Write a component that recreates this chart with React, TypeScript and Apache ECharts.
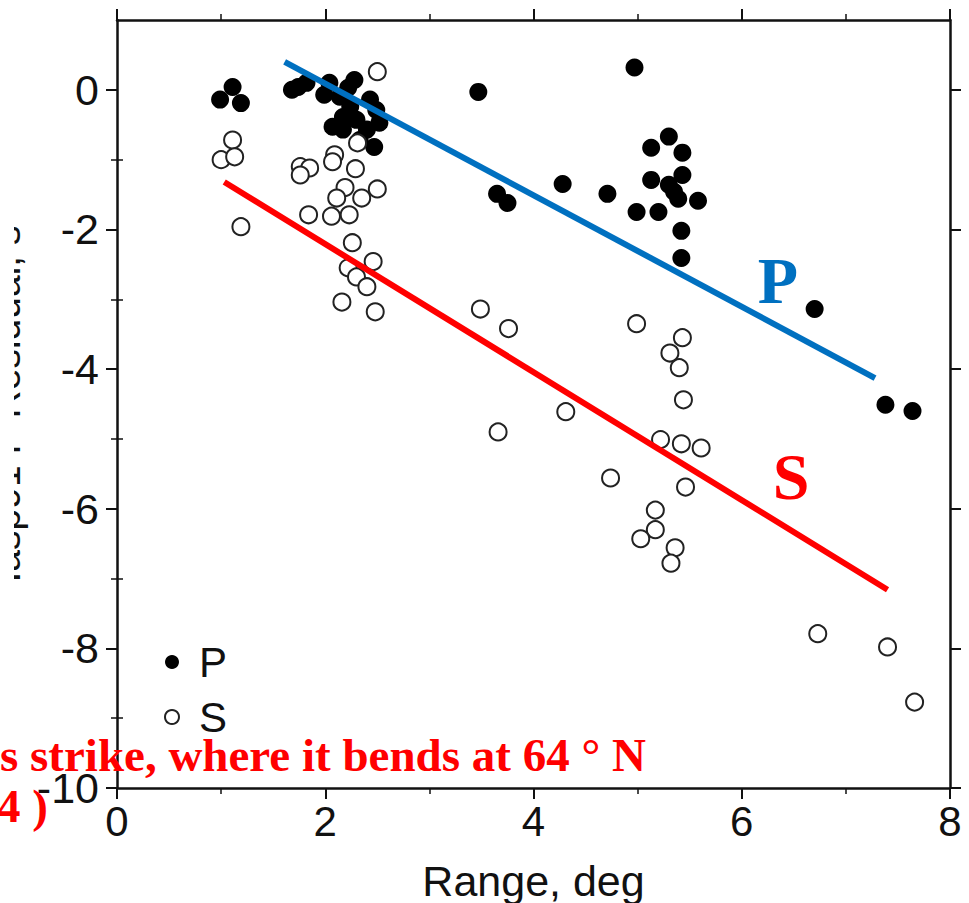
import React, { useEffect, useRef } from "react";
import * as echarts from "echarts";

// P (filled) residuals
const pRange = [0.99, 1.11, 1.19, 1.68, 1.74, 1.82, 1.99, 2.04, 2.22, 2.28, 2.14, 2.24, 2.43, 2.49, 2.17, 2.07, 2.30, 2.40, 2.52, 2.47, 2.17, 2.33, 3.47, 4.97, 3.65, 3.75, 4.28, 4.71, 4.99, 5.20, 5.13, 5.30, 5.43, 5.13, 5.30, 5.43, 5.39, 5.58, 5.42, 5.42, 5.35, 6.70, 7.38, 7.64];
const pResidual = [-0.14, 0.04, -0.19, 0.0, 0.04, 0.10, -0.07, 0.10, 0.03, 0.14, -0.10, -0.24, -0.14, -0.29, -0.39, -0.53, -0.43, -0.57, -0.47, -0.82, -0.57, -0.72, -0.03, 0.32, -1.49, -1.62, -1.35, -1.49, -1.75, -1.75, -0.83, -0.67, -0.90, -1.29, -1.36, -1.22, -1.56, -1.59, -2.02, -2.41, -1.46, -3.14, -4.51, -4.60];

// S (open) residuals
const sRange = [1.11, 1.00, 1.13, 1.19, 1.76, 1.85, 1.76, 2.09, 2.07, 2.29, 2.50, 2.31, 2.19, 2.11, 2.35, 2.50, 1.84, 2.06, 2.23, 2.26, 2.46, 2.22, 2.30, 2.40, 2.16, 2.48, 3.49, 3.76, 4.99, 5.43, 5.31, 5.40, 5.44, 4.31, 3.66, 5.22, 5.42, 5.61, 4.74, 5.46, 5.17, 5.17, 5.03, 5.36, 5.32, 6.73, 7.40, 7.66];
const sResidual = [-0.72, -1.00, -0.96, -1.96, -1.10, -1.12, -1.22, -0.93, -1.03, -1.13, 0.26, -0.76, -1.40, -1.55, -1.55, -1.42, -1.79, -1.81, -1.79, -2.19, -2.46, -2.55, -2.68, -2.82, -3.04, -3.18, -3.14, -3.42, -3.35, -3.55, -3.77, -3.98, -4.44, -4.61, -4.90, -5.01, -5.07, -5.13, -5.56, -5.69, -6.02, -6.30, -6.43, -6.56, -6.78, -7.79, -7.98, -8.77];

// Trend lines
const pFitRange = [1.61, 7.28];
const pFitResidual = [0.40, -4.13];
const sFitRange = [1.03, 7.40];
const sFitResidual = [-1.32, -7.16];

// Ticks
const yMajorTicks = [-10, -8, -6, -4, -2, 0];
const yMinorTicks = [-9, -7, -5, -3, -1];

const SANS = "'Liberation Sans', Arial, Helvetica, sans-serif";
const SERIF = "'Liberation Serif', 'Times New Roman', serif";
const INK = "#111";

export default function App() {
  const ref = useRef<HTMLDivElement>(null);

  useEffect(() => {
    if (!ref.current) return;
    const chart = echarts.init(ref.current, null, { renderer: "svg" });

    const axisLine = { show: true, onZero: false, lineStyle: { color: INK, width: 2.5 } };
    const majorTick = { show: true, inside: false, length: 11, lineStyle: { color: INK, width: 2 } };
    const minorTick = { show: true, splitNumber: 2, length: 6, lineStyle: { color: INK, width: 1.5 } };

    const xCommon = {
      type: "value",
      min: 0,
      max: 8,
      interval: 2,
      axisLine,
      axisTick: majorTick,
      minorTick,
      splitLine: { show: false },
      minorSplitLine: { show: false },
    };

    const yMajor = (position: string, showLabel: boolean) => ({
      type: "value",
      position,
      min: -10,
      max: 1,
      axisLine,
      axisTick: { ...majorTick, customValues: yMajorTicks },
      axisLabel: {
        show: showLabel,
        customValues: yMajorTicks,
        margin: 18,
        fontSize: 43,
        color: INK,
        fontFamily: SANS,
      },
      splitLine: { show: false },
    });
    const yMinor = (position: string) => ({
      type: "value",
      position,
      min: -10,
      max: 1,
      axisLine: { show: false },
      axisTick: { show: true, inside: false, length: 6, lineStyle: { color: INK, width: 1.5 }, customValues: yMinorTicks },
      axisLabel: { show: false },
      splitLine: { show: false },
    });

    const option: any = {
      animation: false,
      backgroundColor: "#fff",
      grid: { left: 117, right: 19, top: 20, bottom: 115, containLabel: false, outerBoundsMode: "none" },
      legend: {
        data: [
          { name: "P", icon: "circle" },
          { name: "S", icon: "circle" },
        ],
        orient: "vertical",
        left: 164,
        top: 640,
        padding: 0,
        itemWidth: 44,
        itemHeight: 14,
        itemGap: 11,
        selectedMode: false,
        textStyle: { fontSize: 42, lineHeight: 44, color: INK, fontFamily: SANS },
      },
      xAxis: [
        {
          ...xCommon,
          position: "bottom",
          axisLabel: { margin: 12, fontSize: 42, color: INK, fontFamily: SANS },
          name: "Range, deg",
          nameLocation: "middle",
          nameGap: 71,
          nameTextStyle: { fontSize: 43, color: INK, fontFamily: SANS },
        },
        {
          ...xCommon,
          position: "top",
          axisLabel: { show: false },
        },
      ],
      yAxis: [
        {
          ...yMajor("left", true),
          name: "Iasp91 P Residual, s",
          nameLocation: "middle",
          nameRotate: 90,
          nameGap: 83,
          nameTextStyle: { fontSize: 39, color: INK, fontFamily: SANS },
        },
        yMinor("left"),
        yMajor("right", false),
        yMinor("right"),
      ],
      series: [
        {
          name: "P",
          type: "scatter",
          xAxisIndex: 0,
          yAxisIndex: 0,
          symbol: "circle",
          symbolSize: 18,
          itemStyle: { color: "#000", opacity: 1 },
          data: pRange.map((x, i) => [x, pResidual[i]]),
        },
        {
          name: "S",
          type: "scatter",
          xAxisIndex: 0,
          yAxisIndex: 0,
          symbol: "circle",
          symbolSize: 17,
          itemStyle: { color: "#fff", borderColor: "#222", borderWidth: 2, opacity: 1 },
          data: sRange.map((x, i) => [x, sResidual[i]]),
        },
        {
          name: "P fit",
          type: "line",
          xAxisIndex: 0,
          yAxisIndex: 0,
          symbol: "none",
          lineStyle: { color: "#0070C0", width: 6 },
          data: pFitRange.map((x, i) => [x, pFitResidual[i]]),
        },
        {
          name: "S fit",
          type: "line",
          xAxisIndex: 0,
          yAxisIndex: 0,
          symbol: "none",
          lineStyle: { color: "#FF0000", width: 6 },
          data: sFitRange.map((x, i) => [x, sFitResidual[i]]),
        },
      ],
      graphic: [
        {
          type: "rect",
          z: 100,
          shape: { x: 0, y: 0, width: 14, height: 903 },
          style: { fill: "#fff" },
        },
        {
          type: "text",
          z: 101,
          x: 778,
          y: 280,
          style: {
            text: "P",
            fill: "#0070C0",
            font: `bold 66px ${SERIF}`,
            textAlign: "center",
            textVerticalAlign: "middle",
          },
        },
        {
          type: "text",
          z: 101,
          x: 791,
          y: 476,
          style: {
            text: "S",
            fill: "#FF0000",
            font: `bold 66px ${SERIF}`,
            textAlign: "center",
            textVerticalAlign: "middle",
          },
        },
        {
          type: "text",
          z: 101,
          x: 0,
          y: 755,
          style: {
            text: "s strike, where it bends at 64 ° N",
            fill: "#FF0000",
            font: `bold 47px ${SERIF}`,
            textAlign: "left",
            textVerticalAlign: "middle",
          },
        },
        {
          type: "text",
          z: 101,
          x: -3,
          y: 806,
          style: {
            text: "4 )",
            fill: "#FF0000",
            font: `bold 47px ${SERIF}`,
            textAlign: "left",
            textVerticalAlign: "middle",
          },
        },
      ],
    };

    chart.setOption(option);
    return () => chart.dispose();
  }, []);

  return (
    <div
      ref={ref}
      style={{ position: "absolute", left: 0, top: 0, width: 969, height: 903, background: "#fff" }}
    />
  );
}
